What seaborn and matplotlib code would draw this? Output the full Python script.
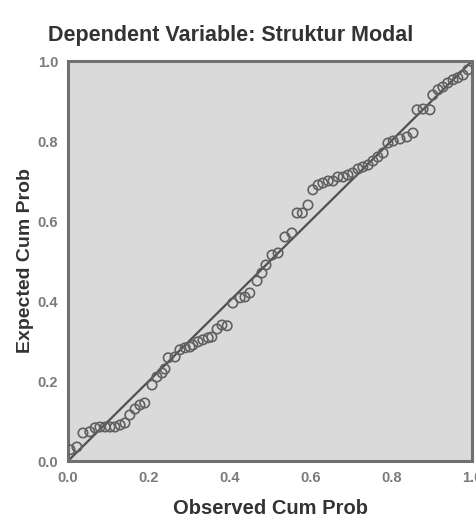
"""
P-P plot of regression standardized residuals
Dependent Variable: Struktur Modal
"""
import matplotlib
matplotlib.use("Agg")
import matplotlib.pyplot as plt
import seaborn as sns
import pandas as pd

# observed vs expected cumulative probabilities
observed_cum_prob = [
    0.005, 0.022, 0.037, 0.054, 0.067, 0.079, 0.092, 0.104, 0.116, 0.129,
    0.141, 0.153, 0.166, 0.178, 0.190, 0.208, 0.220, 0.233, 0.240, 0.248,
    0.265, 0.277, 0.290, 0.302, 0.309, 0.322, 0.334, 0.347, 0.356, 0.369,
    0.381, 0.394, 0.408, 0.426, 0.438, 0.450, 0.468, 0.480, 0.490, 0.505,
    0.520, 0.537, 0.554, 0.567, 0.580, 0.594, 0.606, 0.619, 0.631, 0.644,
    0.656, 0.668, 0.681, 0.693, 0.705, 0.718, 0.730, 0.743, 0.755, 0.767,
    0.780, 0.792, 0.805, 0.822, 0.839, 0.854, 0.864, 0.879, 0.896, 0.903,
    0.916, 0.928, 0.940, 0.953, 0.965, 0.978, 0.990,
]
expected_cum_prob = [
    0.028, 0.035, 0.070, 0.073, 0.083, 0.085, 0.085, 0.085, 0.085, 0.090,
    0.095, 0.115, 0.130, 0.140, 0.145, 0.190, 0.210, 0.220, 0.230, 0.258,
    0.260, 0.278, 0.283, 0.285, 0.290, 0.298, 0.303, 0.308, 0.310, 0.330,
    0.340, 0.338, 0.395, 0.408, 0.410, 0.420, 0.450, 0.470, 0.490, 0.515,
    0.520, 0.560, 0.570, 0.620, 0.620, 0.640, 0.678, 0.690, 0.695, 0.700,
    0.700, 0.710, 0.710, 0.715, 0.720, 0.730, 0.735, 0.740, 0.750, 0.760,
    0.770, 0.795, 0.800, 0.805, 0.810, 0.820, 0.878, 0.880, 0.878, 0.915,
    0.928, 0.935, 0.945, 0.953, 0.958, 0.965, 0.978,
]
ref_line = [0.0, 1.0]
ticks = [0.0, 0.2, 0.4, 0.6, 0.8, 1.0]
tick_labels = ["0.0", "0.2", "0.4", "0.6", "0.8", "1.0"]

df = pd.DataFrame({"observed": observed_cum_prob, "expected": expected_cum_prob})

sns.set_style("white")
plt.rcParams["font.family"] = ["Liberation Sans", "DejaVu Sans"]

fig = plt.figure(figsize=(4.77, 5.25), dpi=100)
ax = fig.add_axes([0.1426, 0.1219, 0.8469, 0.7619])
ax.set_facecolor("#dadada")

# diagonal reference line
sns.lineplot(x=ref_line, y=ref_line, ax=ax, color="#505050", linewidth=1.6)

# points
sns.scatterplot(data=df, x="observed", y="expected", ax=ax,
                marker="o", s=46, facecolor="none",
                edgecolor="#606060", linewidth=1.2, zorder=3)

ax.set_xlim(0, 1)
ax.set_ylim(0, 1)
ax.set_xticks(ticks)
ax.set_yticks(ticks)
ax.set_xticklabels(tick_labels)
ax.set_yticklabels(tick_labels)

for side in ["left", "right", "top", "bottom"]:
    ax.spines[side].set_visible(True)
    ax.spines[side].set_color("#707070")
    ax.spines[side].set_linewidth(2.2)

ax.tick_params(axis="both", direction="out", length=5, width=2,
               color="#707070", labelsize=10.5, labelcolor="#7a7a7a", pad=2)
for lbl in ax.get_xticklabels() + ax.get_yticklabels():
    lbl.set_fontweight("bold")

ax.set_xlabel("Observed Cum Prob", fontsize=14.5, fontweight="bold",
              color="#333333", labelpad=10)
ax.set_ylabel("Expected Cum Prob", fontsize=14, fontweight="bold",
              color="#333333", labelpad=3)

fig.text(0.484, 0.932, "Dependent Variable: Struktur Modal", fontsize=15.5,
         fontweight="bold", color="#333333", ha="center", va="center")

fig.savefig("out.png", dpi=100)
